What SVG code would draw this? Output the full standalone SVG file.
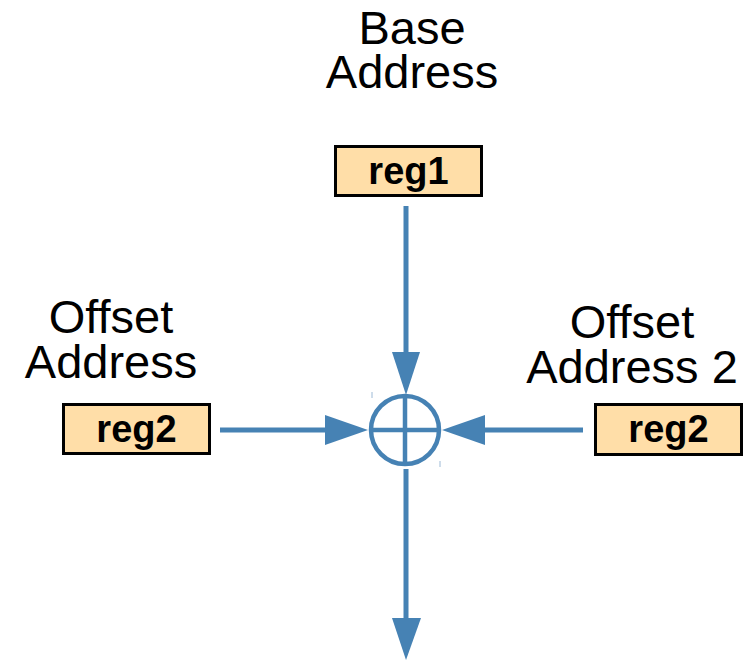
<svg xmlns="http://www.w3.org/2000/svg" width="755" height="662" viewBox="0 0 755 662">
<style>
.lbl{font-family:"Liberation Sans",Arial,sans-serif;font-size:47px;fill:#000;text-anchor:middle}
.reg rect{fill:#FFDEA8;stroke:#000;stroke-width:3}
.reg text{font-family:"Liberation Sans",Arial,sans-serif;font-size:38px;font-weight:bold;fill:#000;text-anchor:middle}
.ln{stroke:#4682B4;stroke-width:5;fill:none}
.hd{fill:#4682B4}
</style>
<rect width="755" height="662" fill="#fff"/>
<g id="label-base"><text class="lbl" x="412" y="44">Base</text><text class="lbl" x="412" y="88">Address</text></g>
<g id="label-offset"><text class="lbl" x="111" y="333">Offset</text><text class="lbl" x="111" y="378">Address</text></g>
<g id="label-offset2"><text class="lbl" x="632" y="338">Offset</text><text class="lbl" x="632" y="383">Address 2</text></g>
<g id="reg1" class="reg"><rect x="335.5" y="146.5" width="146" height="49"/><text x="408.5" y="184">reg1</text></g>
<g id="reg2-left" class="reg"><rect x="63.5" y="404.5" width="146" height="49"/><text x="136.5" y="442">reg2</text></g>
<g id="reg2-right" class="reg"><rect x="595.5" y="404.5" width="146" height="50"/><text x="668.5" y="442">reg2</text></g>
<g id="adder">
<circle cx="405" cy="430" r="34" fill="none" stroke="#4682B4" stroke-width="4.5"/>
<line x1="371" y1="430" x2="439" y2="430" stroke="#4682B4" stroke-width="4.5"/>
<line x1="405" y1="396" x2="405" y2="464" stroke="#4682B4" stroke-width="4.5"/>
<line x1="372" y1="392" x2="372" y2="398" stroke="#9DBAD6" stroke-width="1"/>
<line x1="440" y1="461" x2="440" y2="467" stroke="#9DBAD6" stroke-width="1"/>
</g>
<g id="connectors">
<line class="ln" x1="406" y1="206" x2="406" y2="354"/>
<polygon class="hd" points="392,352 420,352 406,395"/>
<line class="ln" x1="220" y1="430" x2="327" y2="430"/>
<polygon class="hd" points="325,415 325,445 368,430"/>
<line class="ln" x1="583" y1="430" x2="483" y2="430"/>
<polygon class="hd" points="485,415 485,445 442,430"/>
<line class="ln" x1="406" y1="469" x2="406" y2="620"/>
<polygon class="hd" points="392,618 421,618 406,660"/>
</g>
</svg>
